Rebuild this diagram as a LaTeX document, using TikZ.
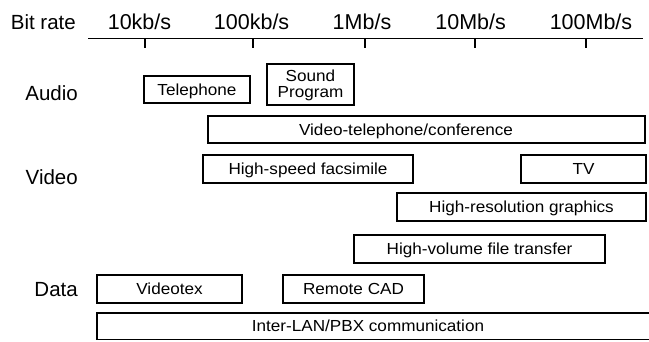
\documentclass[tikz,border=0pt]{standalone}
\usepackage{fontspec}
\setmainfont{Liberation Sans}
\newfontfamily\barfont[FakeStretch=1.07]{Liberation Sans}
\begin{document}
\begin{tikzpicture}[x=1pt,y=-1pt,
  bar/.style={draw=black, line width=1.8pt, inner sep=0pt,
    text height=11.4pt, text depth=0pt,
    font=\barfont\fontsize{16}{18}\selectfont},
  bartext/.style={inner sep=0pt, text height=11.4pt, text depth=0pt,
    font=\barfont\fontsize{16}{18}\selectfont},
  linetext/.style={inner sep=0pt, anchor=base,
    font=\barfont\fontsize{16}{18}\selectfont},
  rowlbl/.style={anchor=base east, inner sep=0pt,
    font=\fontsize{20.5}{23}\selectfont},
  ratelbl/.style={anchor=base, inner sep=0pt,
    font=\fontsize{21.5}{24}\selectfont},
  axis/.style={line width=1.8pt},
  tick/.style={line width=1.3pt}]
\useasboundingbox (0,0) rectangle (649,341);
\clip (0,0) rectangle (649,341);

% bar between x1..x2, y1..y2 with centred label
\newcommand\ratebar[6]{%
  \node[bar, minimum width={#4-#2}, minimum height={#5-#3}]
    (#1) at ({(#2+#4)/2},{(#3+#5)/2}) {#6};}

% bit-rate axis
\node[rowlbl, anchor=base east] (bitrate) at (76,29) {Bit rate};
\node[ratelbl] (r1) at (139.5,29) {10kb/s};
\node[ratelbl] (r2) at (251.6,29) {100kb/s};
\node[ratelbl] (r3) at (362,29) {1Mb/s};
\node[ratelbl] (r4) at (470.6,29) {10Mb/s};
\node[ratelbl] (r5) at (591,29) {100Mb/s};
\coordinate (axL) at (88,38.5);
\coordinate (axR) at (643,38.5);
\draw[axis] (axL) -- (axR);
\foreach \i/\x in {1/145,2/253,3/365,4/475,5/586}{
  \coordinate (t\i) at (\x,38.5);
  \coordinate (b\i) at (\x,48);
  \draw[tick] (t\i) -- (b\i);
}

% row headings
\node[rowlbl] (audio) at (78,100) {Audio};
\node[rowlbl] (video) at (78,184) {Video};
\node[rowlbl] (data)  at (78,296) {Data};

% audio
\ratebar{tel}{144}{76}{250}{103}{Telephone}
\node[bar, minimum width=87, minimum height=41] (sound) at (310.5,84.5) {};
\node[linetext] (soundA) at (310.5,81) {Sound};
\node[linetext] (soundB) at (310.5,97.5) {Program};

% video
\node[bar, minimum width=437, minimum height=27] (vtc) at (426.5,129.5) {};
\node[bartext] (vtcT) at (406,129.5) {Video-telephone/conference};
\ratebar{fax}{203}{155}{413}{183}{High-speed facsimile}
\ratebar{tv}{521}{155}{646}{183}{TV}
\ratebar{hrg}{397}{193}{646}{221}{High-resolution graphics}

% data
\ratebar{hvf}{354}{235}{605}{263}{High-volume file transfer}
\ratebar{vtx}{97}{275}{242}{303}{Videotex}
\ratebar{cad}{283}{275}{424}{303}{Remote CAD}
\node[bar, minimum width=583, minimum height=26.5] (lan) at (388.5,326.25) {};
\node[bartext] (lanT) at (368,326.25) {Inter-LAN/PBX communication};
\end{tikzpicture}
\end{document}
